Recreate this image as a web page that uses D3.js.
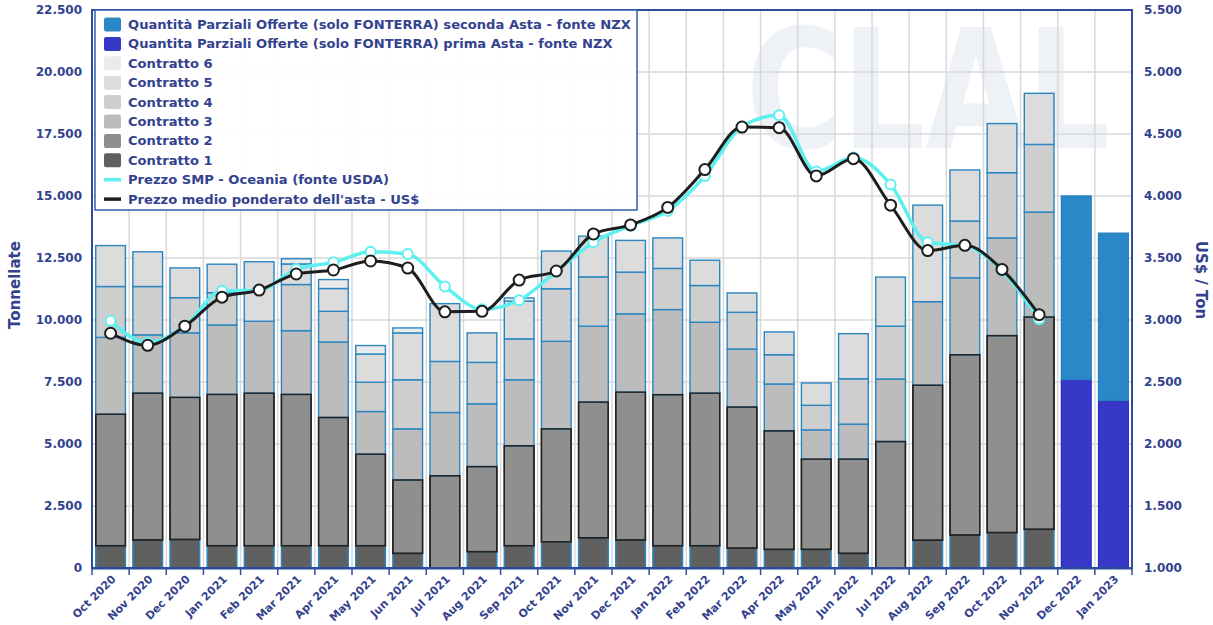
<!DOCTYPE html>
<html>
<head>
  <meta charset="utf-8">
  <title>Fonterra GDT - Quantità e prezzi SMP</title>
  <script src="https://d3js.org/d3.v7.min.js"></script>
  <style>
    body { margin: 0; background: #fff; }
    text { font-family: "DejaVu Sans", Verdana, sans-serif; font-weight: bold; }
  </style>
</head>
<body>
  <div id="chart"></div>

  <script>
    // months on the x axis
    var months = ["Oct 2020", "Nov 2020", "Dec 2020", "Jan 2021", "Feb 2021", "Mar 2021", "Apr 2021",
      "May 2021", "Jun 2021", "Jul 2021", "Aug 2021", "Sep 2021", "Oct 2021", "Nov 2021", "Dec 2021",
      "Jan 2022", "Feb 2022", "Mar 2022", "Apr 2022", "May 2022", "Jun 2022", "Jul 2022", "Aug 2022",
      "Sep 2022", "Oct 2022", "Nov 2022", "Dec 2022", "Jan 2023"];

    // tonnes per contract (stacked, bottom = Contratto 1)
    var contratto1 = [900, 1130, 1150, 900, 900, 900, 900, 900, 590, 0, 660, 900, 1060, 1220, 1130,
      900, 900, 800, 750, 750, 590, 0, 1120, 1330, 1430, 1560, 0, 0];
    var contratto2 = [5300, 5920, 5730, 6100, 6150, 6100, 5170, 3690, 2960, 3720, 3430, 4030, 4550, 5470, 5960,
      6090, 6150, 5690, 4780, 3640, 3800, 5100, 6250, 7270, 7940, 8560, 0, 0];
    var contratto3 = [3100, 2350, 2600, 2800, 2900, 2570, 3040, 1720, 2060, 2550, 2530, 2660, 3530, 3060, 3160,
      3430, 2860, 2340, 1890, 1180, 1410, 2520, 3370, 3100, 3940, 4230, 0, 0];
    var contratto4 = [2050, 1950, 1420, 1300, 0, 1860, 1240, 1180, 1980, 2060, 1670, 1650, 2120, 1990, 1680,
      1660, 1480, 1480, 1180, 990, 1830, 2130, 0, 2290, 2630, 2730, 0, 0];
    var contratto5 = [1650, 1400, 1200, 1150, 2400, 830, 920, 1140, 1890, 2330, 1190, 1520, 1520, 1640, 1280,
      1230, 1020, 780, 920, 900, 1820, 1980, 3890, 2060, 1980, 2060, 0, 0];
    var contratto6 = [0, 0, 0, 0, 0, 210, 360, 340, 200, 0, 0, 130, 0, 0, 0,
      0, 0, 0, 0, 0, 0, 0, 0, 0, 0, 0, 0, 0];

    // partial quantities offered by Fonterra (NZX)
    var primaAsta = [0, 0, 0, 0, 0, 0, 0, 0, 0, 0, 0, 0, 0, 0, 0, 0, 0, 0, 0, 0, 0, 0, 0, 0, 0, 0, 7600, 6760];
    var secondaAsta = [0, 0, 0, 0, 0, 0, 0, 0, 0, 0, 0, 0, 0, 0, 0, 0, 0, 0, 0, 0, 0, 0, 0, 0, 0, 0, 7400, 6740];

    // prices, US$ / ton (Oct 2020 - Nov 2022)
    var prezzoSmp = [2993, 2818, 2952, 3235, 3240, 3411, 3465, 3550, 3532, 3271, 3087, 3160, 3390, 3627, 3760,
      3880, 4161, 4560, 4651, 4198, 4310, 4093, 3627, 3600, 3400, 3006];
    var prezzoMedio = [2893, 2796, 2950, 3184, 3241, 3371, 3403, 3476, 3419, 3066, 3070, 3322, 3395, 3694, 3767,
      3908, 4213, 4556, 4551, 4162, 4301, 3926, 3560, 3602, 3408, 3043];

    var leftTicks = [0, 2500, 5000, 7500, 10000, 12500, 15000, 17500, 20000, 22500];
    var rightTicks = [1000, 1500, 2000, 2500, 3000, 3500, 4000, 4500, 5000, 5500];

    var width = 1213, height = 625;
    var plot = { left: 92, right: 1132, top: 10, bottom: 568 };
    var axisBlue = "#2f4c9e";
    var textBlue = "#33428e";

    var locale = d3.formatLocale({ decimal: ",", thousands: ".", grouping: [3], currency: ["", ""] });
    var fmt = locale.format(",.0f");

    var keys = ["c1", "c2", "c3", "c4", "c5", "c6", "prima", "seconda"];
    var fills = { c1: "#606060", c2: "#8f8f8f", c3: "#bcbcbc", c4: "#cecece", c5: "#dcdcdc", c6: "#ebebeb",
      prima: "#3838c8", seconda: "#2b88c8" };
    var strokes = { c1: "#2a86c0", c2: "#222", c3: "#2a86c0", c4: "#2a86c0", c5: "#2a86c0", c6: "#2a86c0",
      prima: "#3030c0", seconda: "#2680c0" };

    var table = months.map(function(m, i) {
      return { month: m, c1: contratto1[i], c2: contratto2[i], c3: contratto3[i], c4: contratto4[i],
        c5: contratto5[i], c6: contratto6[i], prima: primaAsta[i], seconda: secondaAsta[i] };
    });
    var layers = d3.stack().keys(keys)(table);

    var x = d3.scaleBand().domain(months).range([plot.left, plot.right]).paddingInner(0.2).paddingOuter(0.1);
    var y = d3.scaleLinear().domain([0, 22500]).range([plot.bottom, plot.top]);
    var y2 = d3.scaleLinear().domain([1000, 5500]).range([plot.bottom, plot.top]);

    var svg = d3.select("#chart").append("svg")
      .attr("width", width)
      .attr("height", height);

    // faint watermark
    svg.append("text")
      .attr("transform", "translate(928,148) scale(0.95,1.2)")
      .attr("text-anchor", "middle")
      .style("font-size", "138px")
      .style("fill", "#eef1f6")
      .text("CLAL");

    // grid
    var grid = svg.append("g");
    grid.selectAll(".h").data(leftTicks).enter().append("line")
      .attr("x1", plot.left).attr("x2", plot.right)
      .attr("y1", function(d) { return y(d); }).attr("y2", function(d) { return y(d); })
      .attr("stroke", "#d9d9d9").attr("stroke-width", 1.5);
    var step = x.step();
    var bounds = months.map(function(m) { return x(m) - step * x.paddingInner() / 2; }).slice(1);
    grid.selectAll(".v").data(bounds).enter().append("line")
      .attr("x1", function(d) { return d; }).attr("x2", function(d) { return d; })
      .attr("y1", plot.top).attr("y2", plot.bottom)
      .attr("stroke", "#d9d9d9").attr("stroke-width", 1.5);

    // stacked bars
    var bars = svg.append("g");
    layers.forEach(function(layer) {
      bars.selectAll(".b" + layer.key)
        .data(layer.filter(function(d) { return d[1] - d[0] > 0; }))
        .enter().append("rect")
        .attr("x", function(d) { return x(d.data.month); })
        .attr("width", x.bandwidth())
        .attr("y", function(d) { return y(d[1]); })
        .attr("height", function(d) { return y(d[0]) - y(d[1]); })
        .attr("fill", fills[layer.key])
        .attr("stroke", strokes[layer.key])
        .attr("stroke-width", 1.4);
    });
    // Contratto 2 has a dark outline, redraw it on top of its neighbours
    bars.selectAll(".c2top")
      .data(layers[1].filter(function(d) { return d[1] - d[0] > 0; }))
      .enter().append("rect")
      .attr("x", function(d) { return x(d.data.month); })
      .attr("width", x.bandwidth())
      .attr("y", function(d) { return y(d[1]); })
      .attr("height", function(d) { return y(d[0]) - y(d[1]); })
      .attr("fill", "none")
      .attr("stroke", "#222")
      .attr("stroke-width", 1.4);

    // price lines
    var priceMonths = months.slice(0, prezzoSmp.length);
    var cx = function(d, i) { return x(priceMonths[i]) + x.bandwidth() / 2; };
    var line = d3.line()
      .x(cx)
      .y(function(d) { return y2(d); })
      .curve(d3.curveMonotoneX);

    svg.append("path").datum(prezzoSmp)
      .attr("d", line).attr("fill", "none")
      .attr("stroke", "#5ef0f0").attr("stroke-width", 3.5);
    svg.selectAll(".smp").data(prezzoSmp).enter().append("circle")
      .attr("cx", cx).attr("cy", function(d) { return y2(d); }).attr("r", 5)
      .attr("fill", "#fff").attr("stroke", "#5ef0f0").attr("stroke-width", 2);

    svg.append("path").datum(prezzoMedio)
      .attr("d", line).attr("fill", "none")
      .attr("stroke", "#1e1e1e").attr("stroke-width", 3);
    svg.selectAll(".medio").data(prezzoMedio).enter().append("circle")
      .attr("cx", cx).attr("cy", function(d) { return y2(d); }).attr("r", 5.5)
      .attr("fill", "#fff").attr("stroke", "#1e1e1e").attr("stroke-width", 2);

    // plot frame
    svg.append("rect")
      .attr("x", plot.left).attr("y", plot.top)
      .attr("width", plot.right - plot.left).attr("height", plot.bottom - plot.top)
      .attr("fill", "none").attr("stroke", axisBlue).attr("stroke-width", 2);

    // left axis
    var gl = svg.append("g")
      .attr("transform", "translate(" + plot.left + ",0)")
      .call(d3.axisLeft(y).tickValues(leftTicks).tickSize(0).tickPadding(10).tickFormat(fmt));
    gl.select(".domain").remove();
    gl.selectAll("text").style("font-size", "12px").style("fill", textBlue);

    // right axis
    var gr = svg.append("g")
      .attr("transform", "translate(" + plot.right + ",0)")
      .call(d3.axisRight(y2).tickValues(rightTicks).tickSize(0).tickPadding(12).tickFormat(fmt));
    gr.select(".domain").remove();
    gr.selectAll("text").style("font-size", "12px").style("fill", textBlue);

    // bottom axis
    var gb = svg.append("g")
      .attr("transform", "translate(0," + plot.bottom + ")")
      .call(d3.axisBottom(x).tickSize(0));
    gb.select(".domain").attr("stroke", axisBlue).attr("stroke-width", 2);
    gb.selectAll("text")
      .style("font-size", "11px").style("fill", textBlue)
      .attr("text-anchor", "end")
      .attr("y", 0)
      .attr("dy", "0.35em")
      .attr("transform", "translate(3,9) rotate(-45)");
    gb.selectAll(".tb").data([plot.left].concat(bounds).concat([plot.right])).enter().append("line")
      .attr("x1", function(d) { return d; }).attr("x2", function(d) { return d; })
      .attr("y1", 0).attr("y2", 7)
      .attr("stroke", axisBlue).attr("stroke-width", 1.5);

    // axis titles
    svg.append("text")
      .attr("transform", "translate(20,285) rotate(-90)")
      .attr("text-anchor", "middle")
      .style("font-size", "15px").style("fill", textBlue)
      .text("Tonnellate");
    svg.append("text")
      .attr("transform", "translate(1196,280) rotate(90)")
      .attr("text-anchor", "middle")
      .style("font-size", "15px").style("fill", textBlue)
      .text("US$ / Ton");

    // legend
    var legendItems = [
      { label: "Quantità Parziali Offerte (solo FONTERRA) seconda Asta - fonte NZX", type: "rect", color: fills.seconda },
      { label: "Quantita Parziali Offerte (solo FONTERRA) prima Asta - fonte NZX", type: "rect", color: fills.prima },
      { label: "Contratto 6", type: "rect", color: fills.c6 },
      { label: "Contratto 5", type: "rect", color: fills.c5 },
      { label: "Contratto 4", type: "rect", color: fills.c4 },
      { label: "Contratto 3", type: "rect", color: fills.c3 },
      { label: "Contratto 2", type: "rect", color: fills.c2 },
      { label: "Contratto 1", type: "rect", color: fills.c1 },
      { label: "Prezzo SMP - Oceania (fonte USDA)", type: "line", color: "#5ef0f0" },
      { label: "Prezzo medio ponderato dell'asta - US$", type: "line", color: "#1e1e1e" }
    ];
    var legend = svg.append("g");
    legend.append("rect")
      .attr("x", 95).attr("y", 10).attr("width", 542).attr("height", 200)
      .attr("fill", "#fff").attr("fill-opacity", 0.92)
      .attr("stroke", "#2f5fa8").attr("stroke-width", 1.5);
    var rows = legend.selectAll(".row").data(legendItems).enter().append("g")
      .attr("transform", function(d, i) { return "translate(104," + (24.5 + i * 19.4) + ")"; });
    rows.filter(function(d) { return d.type === "rect"; }).append("rect")
      .attr("x", 0).attr("y", -7).attr("width", 17).attr("height", 14).attr("rx", 2)
      .attr("fill", function(d) { return d.color; });
    rows.filter(function(d) { return d.type === "line"; }).append("line")
      .attr("x1", 0).attr("x2", 17).attr("y1", 0).attr("y2", 0)
      .attr("stroke", function(d) { return d.color; }).attr("stroke-width", 3.5);
    rows.append("text")
      .attr("x", 24).attr("dy", "0.35em")
      .style("font-size", "13.1px").style("fill", textBlue)
      .text(function(d) { return d.label; });
  </script>
</body>
</html>
